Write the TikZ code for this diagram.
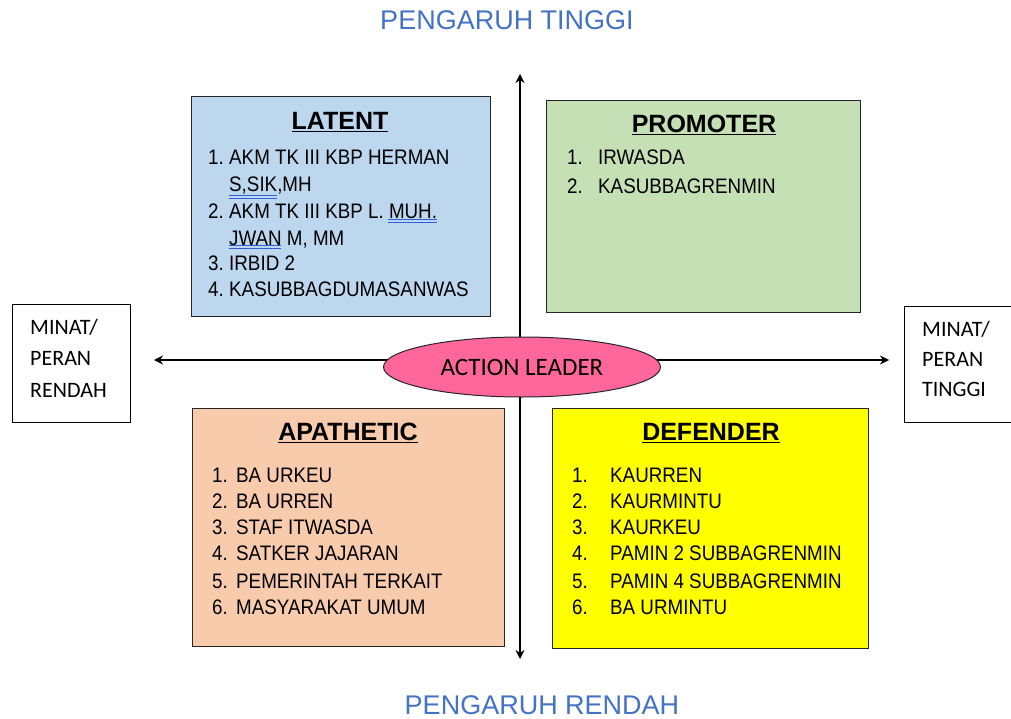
\documentclass[tikz,border=0pt]{standalone}
\usepackage{fontspec}
\setmainfont{Liberation Sans}
\newfontfamily\narrowfont[FakeStretch=0.895]{Liberation Sans}
\newfontfamily\califont{Carlito}
\usetikzlibrary{arrows.meta,shapes.geometric}
\definecolor{latentc}{HTML}{BDD7EE}
\definecolor{promoc}{HTML}{C5E0B4}
\definecolor{apac}{HTML}{F8CBAD}
\definecolor{defc}{HTML}{FFFF00}
\definecolor{pinkc}{HTML}{FF6699}
\definecolor{bluet}{HTML}{4472C4}
\definecolor{spell}{HTML}{2E5FD6}
\begin{document}
\begin{tikzpicture}[x=1pt,y=-1pt,
  quad/.style={draw=black!85, line width=1.3pt, inner sep=0, anchor=north west},
  sidebox/.style={draw=black, line width=1pt, inner sep=0, anchor=north west, fill=white},
  axis/.style={line width=1.3pt, -{Stealth[length=9pt,width=9pt]}},
  ttl/.style={font=\bfseries\fontsize{25}{28}\selectfont, inner sep=0},
  item/.style={anchor=base west, inner sep=0, font=\narrowfont\fontsize{21}{24}\selectfont},
  side/.style={anchor=base west, inner sep=0, font=\califont\fontsize{22}{26}\selectfont},
  pengaruh/.style={text=bluet, inner sep=0, font=\fontsize{27}{30}\selectfont},
  spl/.style={draw=spell, line width=0.8pt}]
\useasboundingbox (0,0) rectangle (1011,719);

% quadrant boxes
\node[quad, fill=latentc, minimum width=299pt, minimum height=220pt] (latent) at (191,96) {};
\node[quad, fill=promoc, minimum width=314pt, minimum height=212pt] (promo) at (546,100) {};
\node[quad, fill=apac, minimum width=312pt, minimum height=238pt] (apa) at (192,408) {};
\node[quad, fill=defc, minimum width=316pt, minimum height=240pt] (def) at (552,408) {};

% side boxes
\node[sidebox, minimum width=118pt, minimum height=118pt] (lbox) at (12,304) {};
\node[sidebox, minimum width=115pt, minimum height=116pt] (rbox) at (904,306) {};

% axes
\coordinate (ctr) at (520,360);
\coordinate (ctrv) at (520,366);
\coordinate (topend) at (520,74);
\coordinate (botend) at (520,659);
\coordinate (leftend) at (154,360);
\coordinate (rightend) at (889,360);
\draw[axis] (ctrv) -- (topend);
\draw[axis] (ctrv) -- (botend);
\draw[axis] (ctr) -- (leftend);
\draw[axis] (ctr) -- (rightend);

\node[ellipse, draw=black!85, line width=1pt, fill=pinkc, minimum width=277pt, minimum height=60pt, inner sep=0,
  font=\califont\fontsize{25}{28}\selectfont] (al) at (522,367) {ACTION LEADER};

% titles
\node[ttl] (tlat) at (340,122) {\underline{LATENT}};
\node[ttl] (tpro) at (704,125) {\underline{PROMOTER}};
\node[ttl] (tapa) at (348,433) {\underline{APATHETIC}};
\node[ttl] (tdef) at (711,433) {\underline{DEFENDER}};

% LATENT list
\node[item] (l1) at (208,165) {\makebox[21pt][l]{1.}AKM TK III KBP HERMAN};
\node[item] (l1b) at (229,192) {S,SIK,MH};
\node[item] (l2) at (208,219) {\makebox[21pt][l]{2.}AKM TK III KBP L. MUH.};
\node[item] (l2b) at (229,245) {JWAN M, MM};
\node[item] (l3) at (208,270) {\makebox[21pt][l]{3.}IRBID 2};
\node[item] (l4) at (208,296) {\makebox[21pt][l]{4.}KASUBBAGDUMASANWAS};
\draw[spl] (229,195) -- (277,195) (229,198) -- (277,198);
\draw[spl] (388,219) -- (437,219) (388,222) -- (437,222);
\draw[spl] (229,245) -- (281,245) (229,248) -- (281,248);

% PROMOTER list
\node[item] (p1) at (567,165) {\makebox[31pt][l]{1.}IRWASDA};
\node[item] (p2) at (567,194) {\makebox[31pt][l]{2.}KASUBBAGRENMIN};

% APATHETIC list
\node[item] (a1) at (212,482) {\makebox[24pt][l]{1.}BA URKEU};
\node[item] (a2) at (212,508) {\makebox[24pt][l]{2.}BA URREN};
\node[item] (a3) at (212,534) {\makebox[24pt][l]{3.}STAF ITWASDA};
\node[item] (a4) at (212,560) {\makebox[24pt][l]{4.}SATKER JAJARAN};
\node[item] (a5) at (212,588) {\makebox[24pt][l]{5.}PEMERINTAH TERKAIT};
\node[item] (a6) at (212,614) {\makebox[24pt][l]{6.}MASYARAKAT UMUM};

% DEFENDER list
\node[item] (d1) at (572,482) {\makebox[38pt][l]{1.}KAURREN};
\node[item] (d2) at (572,508) {\makebox[38pt][l]{2.}KAURMINTU};
\node[item] (d3) at (572,534) {\makebox[38pt][l]{3.}KAURKEU};
\node[item] (d4) at (572,560) {\makebox[38pt][l]{4.}PAMIN 2 SUBBAGRENMIN};
\node[item] (d5) at (572,588) {\makebox[38pt][l]{5.}PAMIN 4 SUBBAGRENMIN};
\node[item] (d6) at (572,614) {\makebox[38pt][l]{6.}BA URMINTU};

% side texts
\node[side] (ls1) at (30,334) {MINAT/};
\node[side] (ls2) at (30,365) {PERAN};
\node[side] (ls3) at (30,397) {RENDAH};
\node[side] (rs1) at (922,336) {MINAT/};
\node[side] (rs2) at (922,366) {PERAN};
\node[side] (rs3) at (922,396) {TINGGI};

% pengaruh labels
\node[pengaruh] (ptop) at (507,20) {PENGARUH TINGGI};
\node[pengaruh] (pbot) at (542,705) {PENGARUH RENDAH};
\end{tikzpicture}
\end{document}
